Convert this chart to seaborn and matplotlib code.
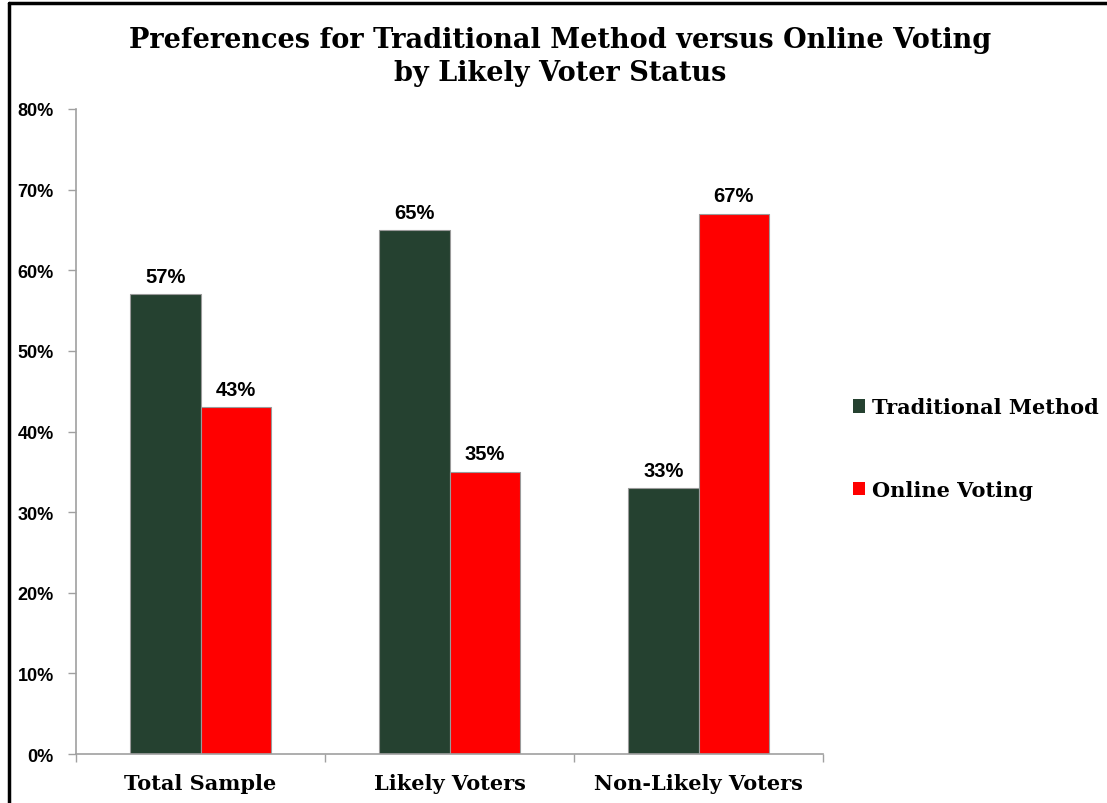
import matplotlib
matplotlib.use("Agg")
import matplotlib.pyplot as plt
from matplotlib.lines import Line2D
from matplotlib.ticker import MultipleLocator, PercentFormatter
import pandas as pd
import seaborn as sns

groups = ["Total Sample", "Likely Voters", "Non-Likely Voters"]
series = ["Traditional Method", "Online Voting"]
traditional = [57, 65, 33]
online = [43, 35, 67]
colors = ["#254130", "#FF0000"]

df = pd.DataFrame({
    "group": groups * 2,
    "method": [series[0]] * 3 + [series[1]] * 3,
    "pct": traditional + online,
})

sns.set_theme(style="white")
plt.rcParams["text.color"] = "black"
plt.rcParams["xtick.color"] = "black"
plt.rcParams["ytick.color"] = "black"
serif = ["DejaVu Serif"]
sans = ["Liberation Sans", "DejaVu Sans"]

fig = plt.figure(figsize=(11.07, 8.04), dpi=100)
ax = fig.add_axes([0.0687, 0.0609, 0.6748, 0.8023])

sns.barplot(data=df, x="group", y="pct", hue="method", order=groups,
            hue_order=series, palette=colors, width=0.566, gap=0,
            edgecolor="#9a9a9a", linewidth=0.8, saturation=1, ax=ax)

for cont in ax.containers:
    ax.bar_label(cont, labels=[f"{v:.0f}%" for v in cont.datavalues],
                 padding=6, fontsize=14.5, fontweight="bold",
                 family=sans, color="black")

ax.set_ylim(0, 80)
ax.set_xlim(-0.5, 2.5)
ax.yaxis.set_major_locator(MultipleLocator(10))
ax.yaxis.set_major_formatter(PercentFormatter(decimals=0))
ax.set_xlabel("")
ax.set_ylabel("")

for s in ["top", "right"]:
    ax.spines[s].set_visible(False)
for s in ["left", "bottom"]:
    ax.spines[s].set_color("#a0a0a0")
    ax.spines[s].set_linewidth(1.2)

ax.tick_params(axis="y", which="major", direction="out", length=6,
               width=1, color="#a0a0a0", labelcolor="black", pad=10, left=True)
ax.tick_params(axis="x", which="major", length=0, pad=14, labelcolor="black")
ax.set_xticks([-0.5, 0.5, 1.5, 2.5], minor=True)
ax.tick_params(axis="x", which="minor", direction="out", length=6,
               width=1, color="#a0a0a0", bottom=True)
for lab in ax.get_yticklabels():
    lab.set_fontfamily(sans)
    lab.set_fontweight("bold")
    lab.set_fontsize(13)
for lab in ax.get_xticklabels():
    lab.set_fontfamily(serif)
    lab.set_fontweight("bold")
    lab.set_fontsize(15)

ax.legend_.remove()
handles = [plt.Rectangle((0, 0), 1, 1, facecolor=c, edgecolor="none") for c in colors]
leg = fig.legend(handles, series, loc="upper left", bbox_to_anchor=(0.761, 0.5175),
                 frameon=False, prop={"family": serif, "weight": "bold", "size": 15},
                 handlelength=0.6, handleheight=0.6, handletextpad=0.3,
                 labelspacing=3.0, borderpad=0)
for t in leg.get_texts():
    t.set_color("black")

fig.text(0.506, 0.95, "Preferences for Traditional Method versus Online Voting",
         ha="center", va="center", fontsize=19.5, fontweight="bold", family=serif,
         color="black")
fig.text(0.506, 0.908, "by Likely Voter Status",
         ha="center", va="center", fontsize=19.5, fontweight="bold", family=serif,
         color="black")

# chart frame on the left and top edges
fig.add_artist(Line2D([0.0085, 0.0085], [0.0, 0.9945], transform=fig.transFigure,
                      color="black", linewidth=2.5))
fig.add_artist(Line2D([0.0085, 1.0], [0.9945, 0.9945], transform=fig.transFigure,
                      color="black", linewidth=2.5))

fig.savefig("out.png", dpi=100, facecolor="white")
